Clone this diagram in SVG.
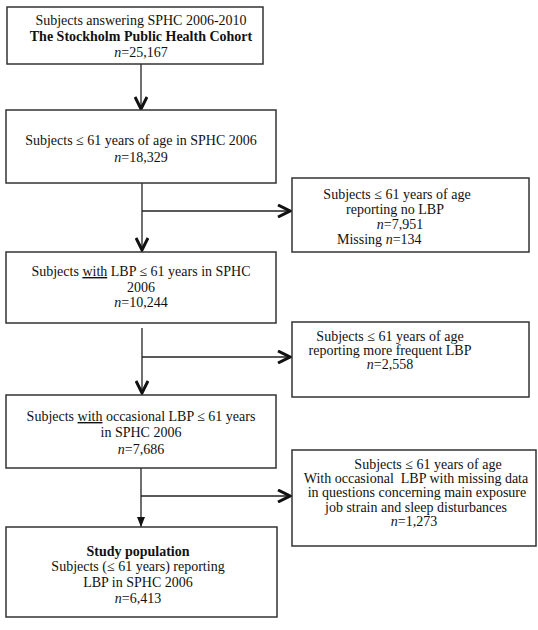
<svg xmlns="http://www.w3.org/2000/svg" width="538" height="630" viewBox="0 0 538 630">
<style>
.box{fill:#fff;stroke:#333;stroke-width:1.5}
text{font-family:"Liberation Serif","Times New Roman",serif;font-size:14px;fill:#111}
.c{text-anchor:middle}
.b{font-weight:bold}
.i{font-style:italic}
.u{text-decoration:underline}
.ln{fill:none;stroke:#222;stroke-width:1.3}
</style>
<defs>
<marker id="chev" viewBox="0 0 16 14" refX="14" refY="7" markerWidth="16" markerHeight="14" markerUnits="userSpaceOnUse" orient="auto">
<path d="M2,1 L14,7 L2,13" fill="none" stroke="#111" stroke-width="3"/>
</marker>
<marker id="tri" viewBox="0 0 10 8" refX="10" refY="4" markerWidth="10" markerHeight="8" markerUnits="userSpaceOnUse" orient="auto">
<path d="M0,0 L10,4 L0,8 Z" fill="#111"/>
</marker>
</defs>
<g id="connectors">
<line class="ln" x1="141" y1="64" x2="141" y2="109" marker-end="url(#chev)"/>
<line class="ln" x1="142" y1="183" x2="142" y2="250" marker-end="url(#chev)"/>
<line class="ln" x1="142" y1="211" x2="290" y2="211" marker-end="url(#chev)"/>
<line class="ln" x1="142" y1="328" x2="142" y2="393" marker-end="url(#chev)"/>
<line class="ln" x1="142" y1="357" x2="290" y2="357" marker-end="url(#chev)"/>
<line class="ln" x1="141" y1="468" x2="141" y2="527" marker-end="url(#tri)"/>
<line class="ln" x1="141" y1="496" x2="290" y2="496" marker-end="url(#chev)"/>
</g>
<g id="n1">
<rect class="box" x="7" y="7" width="256" height="57"/>
<text class="c" x="141" y="25">Subjects answering SPHC 2006-2010</text>
<text class="c b" x="141" y="41">The Stockholm Public Health Cohort</text>
<text class="c" x="141" y="57"><tspan class="i">n</tspan>=25,167</text>
</g>
<g id="n2">
<rect class="box" x="6" y="110" width="270" height="73"/>
<text class="c" x="141" y="145">Subjects ≤ 61 years of age in SPHC 2006</text>
<text class="c" x="141" y="162"><tspan class="i">n</tspan>=18,329</text>
</g>
<g id="s1">
<rect class="box" x="292" y="178" width="237" height="74"/>
<text class="c" x="397" y="199">Subjects ≤ 61 years of age</text>
<text class="c" x="395" y="214">reporting no LBP</text>
<text class="c" x="400" y="229"><tspan class="i">n</tspan>=7,951</text>
<text x="337" y="244">Missing <tspan class="i">n</tspan>=134</text>
</g>
<g id="n3">
<rect class="box" x="6" y="252" width="270" height="71"/>
<text class="c" x="141" y="276">Subjects <tspan class="u">with</tspan> LBP ≤ 61 years in SPHC</text>
<text class="c" x="141" y="292">2006</text>
<text class="c" x="141" y="307"><tspan class="i">n</tspan>=10,244</text>
</g>
<g id="s2">
<rect class="box" x="292" y="322" width="237" height="75"/>
<text class="c" x="390" y="341">Subjects ≤ 61 years of age</text>
<text class="c" x="390" y="355">reporting more frequent LBP</text>
<text class="c" x="390" y="369"><tspan class="i">n</tspan>=2,558</text>
</g>
<g id="n4">
<rect class="box" x="6" y="395" width="270" height="73"/>
<text class="c" x="141" y="421">Subjects <tspan class="u">with</tspan> occasional LBP ≤ 61 years</text>
<text class="c" x="141" y="437">in SPHC 2006</text>
<text class="c" x="141" y="454"><tspan class="i">n</tspan>=7,686</text>
</g>
<g id="s3">
<rect class="box" x="292" y="450" width="244" height="96"/>
<text class="c" x="428" y="469">Subjects ≤ 61 years of age</text>
<text class="c" x="416" y="483" xml:space="preserve">With occasional  LBP with missing data</text>
<text class="c" x="417" y="497">in questions concerning main exposure</text>
<text class="c" x="416" y="512">job strain and sleep disturbances</text>
<text class="c" x="414" y="526"><tspan class="i">n</tspan>=1,273</text>
</g>
<g id="n5">
<rect class="box" x="6" y="527" width="271" height="90"/>
<text class="c b" x="138" y="556">Study population</text>
<text class="c" x="138" y="571">Subjects (≤ 61 years) reporting</text>
<text class="c" x="138" y="587">LBP in SPHC 2006</text>
<text class="c" x="138" y="603"><tspan class="i">n</tspan>=6,413</text>
</g>
</svg>
